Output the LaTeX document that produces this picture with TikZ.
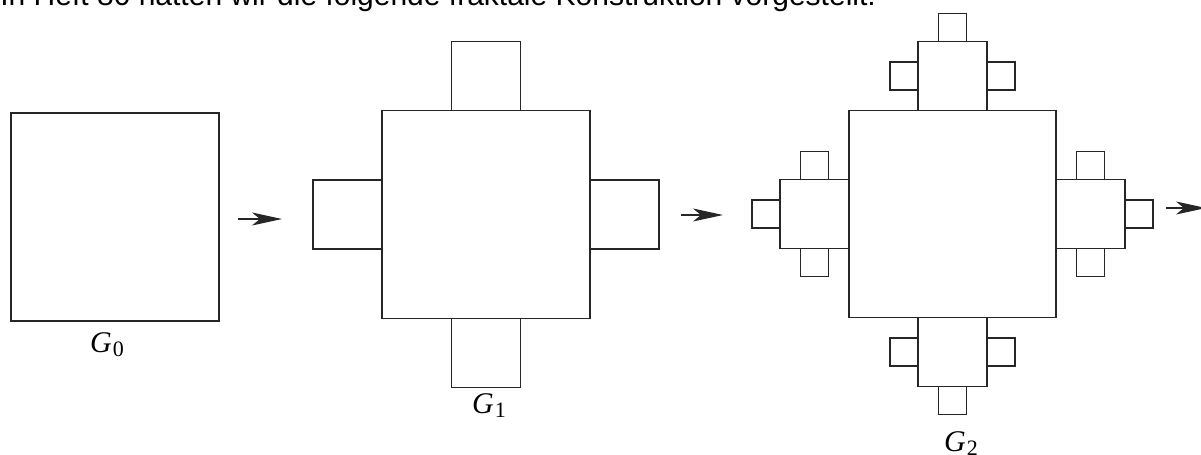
\documentclass[tikz,border=0pt]{standalone}
\usepackage{fontspec}
\setmainfont{Liberation Serif}
\newfontfamily\headfont{Liberation Sans}
\usetikzlibrary{arrows.meta,positioning}
\newcommand{\gen}[1]{\textit{G}\kern0.5pt\raisebox{-0.3ex}{\fontsize{11}{12}\selectfont #1}}

\tikzset{
  sqline/.style={draw=black!85, line width=0.6pt},
  steparrow/.style={-{Stealth[length=15pt,width=6.5pt,inset=4pt]}, line width=0.6pt, black!85},
  genlabel/.style={anchor=base, inner sep=0pt, font=\fontsize{15}{17}\selectfont}
}

\begin{document}
\begin{tikzpicture}[x=0.5pt, y=-0.5pt]
\useasboundingbox (0,0) rectangle (1201,455);
% heading line, cut off by the top edge
\node[anchor=base west, inner sep=0pt, font=\headfont\fontsize{15}{17}\selectfont] (head) at (0,5.5)
  {In Heft 80 hatten wir die folgende fraktale Konstruktion vorgestellt:};
% G0: one square
\draw[sqline] (115,217) ++(-104,-104) rectangle ++(208,208);
% G1: square with four squares of a third of its side
\draw[sqline] (486,214.5) ++(-104,-104) rectangle ++(208,208);
\foreach \a in {0,90,180,270} {
  \draw[sqline] (486,214.5) ++(\a:138.5) ++(-34.5,-34.5) rectangle ++(69,69);
}
% G2: each outer square gets three small squares
\draw[sqline] (952.5,214) ++(-103.5,-103.5) rectangle ++(207,207);
\foreach \a in {0,90,180,270} {
  \draw[sqline] (952.5,214) ++(\a:138) ++(-34.5,-34.5) rectangle ++(69,69);
  \foreach \b in {-90,0,90}
    \draw[sqline] (952.5,214) ++(\a:138) ++(\a+\b:48.5) ++(-14,-14) rectangle ++(28,28);
}
% labels
\node[genlabel] (g0) at (107,352) {\gen{0}};
\node[genlabel] (g1) at (489,413) {\gen{1}};
\node[genlabel] (g2) at (961,451) {\gen{2}};
% arrows between the steps
\coordinate (a1s) at (238,219);  \coordinate (a1e) at (282,219);
\coordinate (a2s) at (681,215);  \coordinate (a2e) at (723,215);
\coordinate (a3s) at (1166,208); \coordinate (a3e) at (1206,208);
\draw[steparrow] (a1s) -- (a1e);
\draw[steparrow] (a2s) -- (a2e);
\draw[steparrow] (a3s) -- (a3e);
\end{tikzpicture}
\end{document}
